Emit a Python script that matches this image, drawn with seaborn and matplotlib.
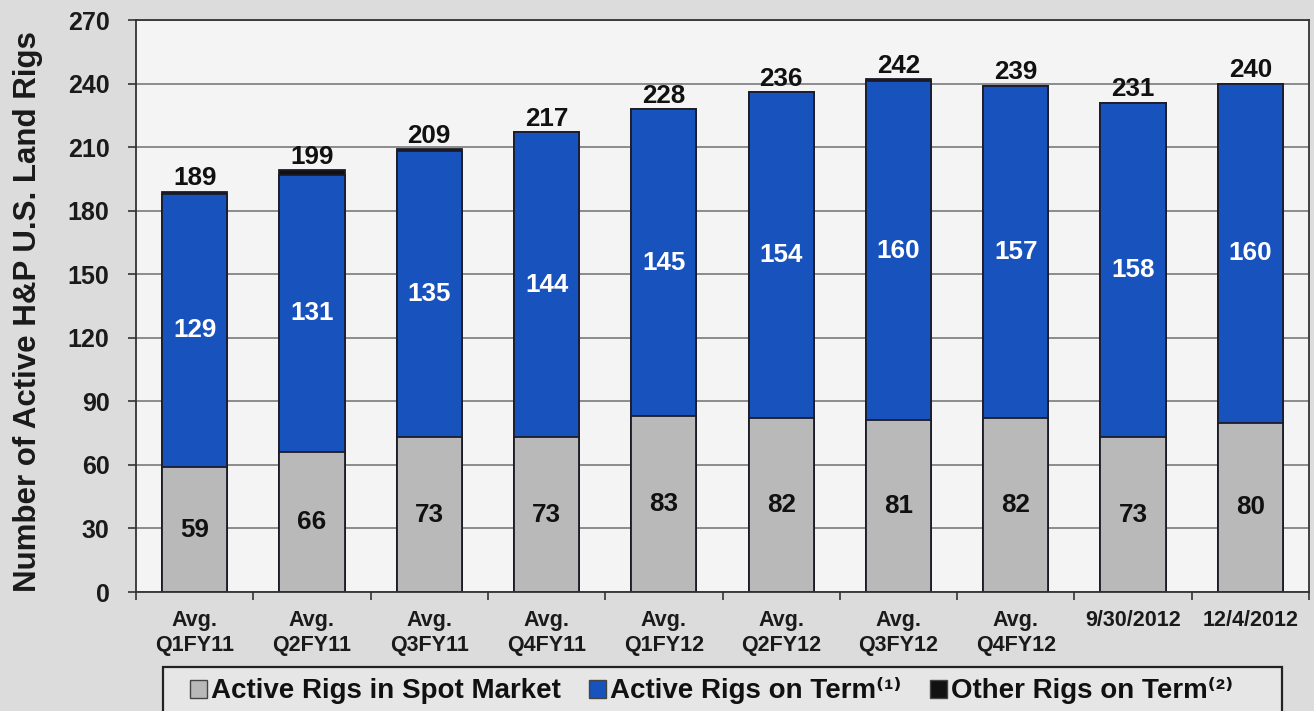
import numpy as np
import pandas as pd
import matplotlib
matplotlib.use("Agg")
import matplotlib.pyplot as plt
import seaborn as sns
from matplotlib.patches import Patch, Rectangle

# Active H&P U.S. land rigs by period
periods = ["Avg.\nQ1FY11", "Avg.\nQ2FY11", "Avg.\nQ3FY11", "Avg.\nQ4FY11",
           "Avg.\nQ1FY12", "Avg.\nQ2FY12", "Avg.\nQ3FY12", "Avg.\nQ4FY12",
           "9/30/2012", "12/4/2012"]
spot_rigs = [59, 66, 73, 73, 83, 82, 81, 82, 73, 80]
term_rigs = [129, 131, 135, 144, 145, 154, 160, 157, 158, 160]
other_term_rigs = [1, 2, 1, 0, 0, 0, 1, 0, 0, 0]
y_ticks = [0, 30, 60, 90, 120, 150, 180, 210, 240, 270]

legend_labels = ["Active Rigs in Spot Market",
                 "Active Rigs on Term\u207d\u00b9\u207e",
                 "Other Rigs on Term\u207d\u00b2\u207e"]

GRAY = "#b9b9b9"
BLUE = "#1752bd"
BLACK = "#111111"
EDGE = "#1c1c28"

sns.set_theme(style="white")
plt.rcParams["font.family"] = ["Liberation Sans", "DejaVu Sans"]
plt.rcParams["font.weight"] = "bold"

df = pd.DataFrame({"period": periods, "spot": spot_rigs,
                   "term": term_rigs, "other": other_term_rigs})
df["term_top"] = df["spot"] + df["term"]
df["total"] = df["term_top"] + df["other"]

W, H = 1314, 711
fig = plt.figure(figsize=(W / 100, H / 100), dpi=100, facecolor="#dcdcdc")
ax = fig.add_axes([136 / W, 1 - 592 / H, (1309 - 136) / W, (592 - 20) / H])
ax.set_facecolor("#f4f4f4")

bar_kw = dict(width=0.555, errorbar=None, saturation=1, edgecolor=EDGE,
              linewidth=1.3, ax=ax, order=periods)
# cumulative heights drawn back to front form the stack
sns.barplot(data=df, x="period", y="total", color=BLACK, **bar_kw)
sns.barplot(data=df, x="period", y="term_top", color=BLUE, **bar_kw)
sns.barplot(data=df, x="period", y="spot", color=GRAY, **bar_kw)

VAL_SIZE = 18.7
for i, row in df.iterrows():
    ax.text(i, row["total"] + 3.0, f"{row['total']}", ha="center", va="baseline",
            fontsize=VAL_SIZE, fontweight="bold", color="#111111")
    ax.text(i, row["spot"] + row["term"] / 2, f"{row['term']}", ha="center",
            va="center", fontsize=VAL_SIZE, fontweight="bold", color="white")
    ax.text(i, row["spot"] / 2, f"{row['spot']}", ha="center", va="center",
            fontsize=VAL_SIZE, fontweight="bold", color="#111111")

ax.set_ylim(0, 270)
ax.set_xlim(-0.5, len(periods) - 0.5)
ax.set_yticks(y_ticks)
ax.yaxis.grid(True, color="#6f6f6f", linewidth=1.1)
ax.set_axisbelow(True)
for s in ax.spines.values():
    s.set_color("#333333")
    s.set_linewidth(1.3)

ax.tick_params(axis="y", which="major", length=6, width=1.2, color="#333333",
               labelsize=18, pad=13, left=True)
ax.tick_params(axis="x", which="major", length=0, labelsize=15.5, pad=13)
ax.set_xticks(np.arange(-0.5, len(periods), 1.0), minor=True)
ax.tick_params(axis="x", which="minor", length=6, width=1.2, color="#333333",
               bottom=True)
for lbl in ax.get_xticklabels():
    lbl.set_linespacing(1.25)
for lbl in ax.get_xticklabels() + ax.get_yticklabels():
    lbl.set_fontweight("bold")
    lbl.set_color("#1a1a1a")

ax.set_xlabel("")
ax.set_ylabel("Number of Active H&P U.S. Land Rigs", fontsize=22.5,
              fontweight="bold", color="#1a1a1a")
ax.yaxis.set_label_coords((43 - 136) / 1173, 0.49)

# legend box spanning below the plot
fig.patches.append(Rectangle((163 / W, -0.05), (1282 - 163) / W, 0.05 + (711 - 667) / H,
                             transform=fig.transFigure, facecolor="#e6e6e6",
                             edgecolor="#222222", linewidth=1.6, zorder=0))
handles = [Patch(facecolor=GRAY, edgecolor="#444444", linewidth=1),
           Patch(facecolor=BLUE, edgecolor="#444444", linewidth=1),
           Patch(facecolor=BLACK, edgecolor="#444444", linewidth=1)]
leg = fig.legend(handles, legend_labels, ncol=3, loc="center left",
                 bbox_to_anchor=(190 / W, 1 - 691 / H),
                 frameon=False, prop={"size": 20, "weight": "bold"},
                 handlelength=0.62, handleheight=0.62, handletextpad=0.15,
                 columnspacing=1.0, borderpad=0, borderaxespad=0)
for t in leg.get_texts():
    t.set_color("#111111")

fig.savefig("out.png", dpi=100, facecolor=fig.get_facecolor())
